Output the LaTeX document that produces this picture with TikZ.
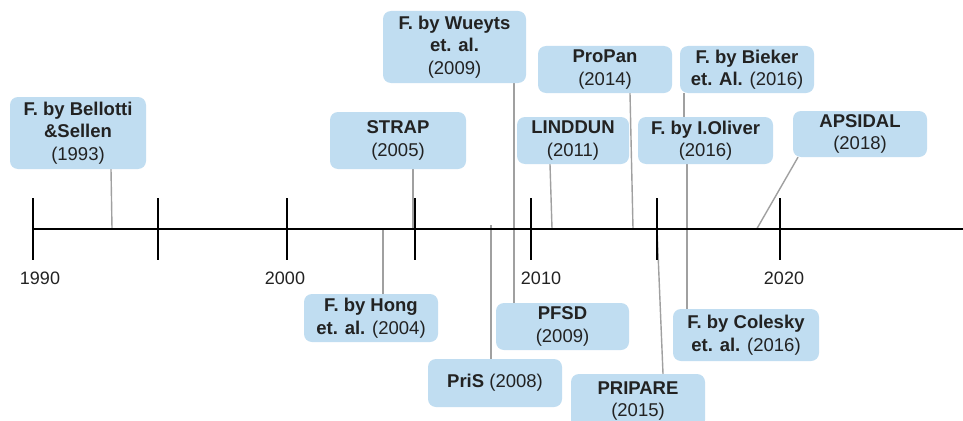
\documentclass[tikz,border=0pt]{standalone}
\usepackage{fontspec}
\setmainfont{Liberation Sans}
\usetikzlibrary{backgrounds}
\definecolor{boxfill}{RGB}{192,221,241}
\definecolor{txt}{RGB}{34,34,34}
\definecolor{conncol}{RGB}{160,160,160}
\tikzset{
  evbox/.style={fill=boxfill, draw=none, rounded corners=8pt, align=center,
    inner sep=0pt, text=txt, font=\fontsize{18.5}{22.5}\selectfont},
  conn/.style={draw=conncol, line width=1.4pt},
  axisline/.style={draw=black, line width=2pt},
  tickline/.style={draw=black, line width=1.5pt},
  yearlbl/.style={text=txt, font=\fontsize{18}{22.5}\selectfont, inner sep=0pt}
}
\begin{document}
\begin{tikzpicture}[x=1pt,y=-1pt]
\clip (0,0) rectangle (963,420);

% boxes
\node[evbox, minimum width=136pt, minimum height=72pt] (bellotti) at (78,133) {\textbf{F. by Bellotti}\\\textbf{\&Sellen}\\(1993)};
\node[evbox, minimum width=136pt, minimum height=57pt] (strap) at (398,140.5) {\textbf{STRAP}\\(2005)};
\node[evbox, minimum width=143pt, minimum height=72pt] (wueyts) at (454.5,47) {\textbf{F. by Wueyts}\\\textbf{et. al.}\\(2009)};
\node[evbox, minimum width=134pt, minimum height=47pt] (propan) at (605,69.5) {\textbf{ProPan}\\(2014)};
\node[evbox, minimum width=112pt, minimum height=47pt] (linddun) at (573,140.5) {\textbf{LINDDUN}\\(2011)};
\node[evbox, minimum width=134pt, minimum height=47pt] (bieker) at (747,69.5) {\textbf{F. by Bieker}\\\textbf{et. Al.} (2016)};
\node[evbox, minimum width=135pt, minimum height=47pt] (oliver) at (705.5,140.5) {\textbf{F. by I.Oliver}\\(2016)};
\node[evbox, minimum width=134pt, minimum height=46pt] (apsidal) at (860,134) {\textbf{APSIDAL}\\(2018)};
\node[evbox, minimum width=134pt, minimum height=48pt] (hong) at (371,318) {\textbf{F. by Hong}\\\textbf{et. al.} (2004)};
\node[evbox, minimum width=134pt, minimum height=48pt] (pris) at (495,383) {\textbf{PriS} (2008)};
\node[evbox, minimum width=133pt, minimum height=47pt] (pfsd) at (562.5,326.5) {\textbf{PFSD}\\(2009)};
\node[evbox, minimum width=134pt, minimum height=54pt] (pripare) at (638,401) {\textbf{PRIPARE}\\(2015)};
\node[evbox, minimum width=146pt, minimum height=52pt] (colesky) at (746,335) {\textbf{F. by Colesky}\\\textbf{et. al.} (2016)};

% year labels
\node[yearlbl] (y1990) at (40,278) {1990};
\node[yearlbl] (y2000) at (285,278) {2000};
\node[yearlbl] (y2010) at (541,278) {2010};
\node[yearlbl] (y2020) at (784,278) {2020};

% axis points
\coordinate (axL) at (33,228.5);
\coordinate (axR) at (963,228.5);
\coordinate (a1993) at (112,228.5);
\coordinate (a2004) at (383,228.5);
\coordinate (a2005) at (413,228.5);
\coordinate (a2008) at (491,225);
\coordinate (a2009) at (514,228.5);
\coordinate (a2011) at (552,228.5);
\coordinate (a2014) at (633,228.5);
\coordinate (a2015) at (657,228.5);
\coordinate (a2016) at (687,228.5);
\coordinate (a2018) at (757,228.5);

\begin{scope}[on background layer]
\fill[white] (0,0) rectangle (963,420);
\draw[conn] (bellotti.south -| 111,0) -- (a1993);
\draw[conn] (strap.south -| a2005) -- (a2005);
\draw[conn] (wueyts.south -| a2009) -- (a2009);
\draw[conn] (propan.south -| 630,0) -- (a2014);
\draw[conn] (linddun.south -| 550,0) -- (a2011);
\draw[conn] (bieker.south -| 684,0) -- (oliver.north -| 684,0);
\draw[conn] (oliver.south -| a2016) -- (a2016);
\draw[conn] (apsidal.south -| 798,0) -- (a2018);
\draw[conn] (hong.north -| a2004) -- (a2004);
\draw[conn] (pris.north -| a2008) -- (a2008);
\draw[conn] (pfsd.north -| a2009) -- (a2009);
\draw[conn] (pripare.north -| 663,0) -- (a2015);
\draw[conn] (colesky.north -| a2016) -- (a2016);
% axis and ticks
\draw[axisline] (axL) -- (axR);
\foreach \tx in {33,158,287,415,531,657,780}
  \draw[tickline] (\tx,198) -- (\tx,260);
\end{scope}
\end{tikzpicture}
\end{document}
